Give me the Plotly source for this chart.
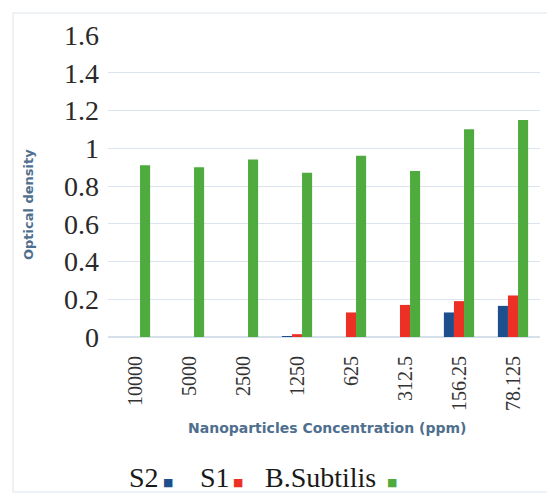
import plotly.graph_objects as go

categories = ["10000", "5000", "2500", "1250", "625", "312.5", "156.25", "78.125"]
s2_values = [0, 0, 0, 0.005, 0, 0, 0.13, 0.165]
s1_values = [0, 0, 0, 0.015, 0.13, 0.17, 0.19, 0.22]
bsub_values = [0.91, 0.90, 0.94, 0.87, 0.96, 0.88, 1.10, 1.15]
y_ticks = [0, 0.2, 0.4, 0.6, 0.8, 1, 1.2, 1.4, 1.6]
series_names = ["S2", "S1", "B.Subtilis"]

c_blue = "#1c4f8c"
c_red = "#ec3026"
c_green = "#4fab3e"
series_colors = [c_blue, c_red, c_green]

fig = go.Figure()
for name, vals, col in zip(series_names, [s2_values, s1_values, bsub_values], series_colors):
    fig.add_trace(go.Bar(name=name, x=categories, y=vals, marker_color=col, marker_line_width=0))

# page body has an 8px margin, so the figure is drawn 8px smaller and target pixels are shifted
OFF = 8
W, H = 555 - OFF, 497 - OFF
L, R, T, B = 100, 15, 27, 160
pw = W - L - R
ph = H - T - B

def px_to_paper_x(px):
    return (px - OFF - L) / pw

def px_to_paper_y(py):
    return (H - B - (py - OFF)) / ph

annotations = [
    dict(text="<b>Optical density</b>", textangle=-90,
         xref="paper", yref="paper", x=px_to_paper_x(28), y=px_to_paper_y(205),
         xanchor="center", yanchor="middle", showarrow=False,
         font=dict(family="DejaVu Sans", size=13, color="#4f6f8f")),
    dict(text="<b>Nanoparticles Concentration (ppm)</b>",
         xref="paper", yref="paper", x=px_to_paper_x(327), y=px_to_paper_y(428),
         xanchor="center", yanchor="middle", showarrow=False,
         font=dict(family="DejaVu Sans", size=14, color="#4f6f8f")),
]

# custom legend: label followed by a small coloured square
legend_text_x = [127, 198, 263]
legend_sq_x = [168, 238, 392]
for name, col, tx, sx in zip(series_names, series_colors, legend_text_x, legend_sq_x):
    annotations.append(dict(text=name, xref="paper", yref="paper",
                            x=px_to_paper_x(tx), y=px_to_paper_y(477),
                            xanchor="left", yanchor="middle", showarrow=False,
                            font=dict(family="Liberation Serif", size=28, color="#1a1a1a")))
    annotations.append(dict(text="■", xref="paper", yref="paper",
                            x=px_to_paper_x(sx), y=px_to_paper_y(482),
                            xanchor="center", yanchor="middle", showarrow=False,
                            font=dict(family="DejaVu Sans", size=11, color=col)))

fig.update_layout(
    width=W, height=H,
    margin=dict(l=L, r=R, t=T, b=B, pad=0),
    barmode="group",
    bargap=0.44,
    bargroupgap=0,
    showlegend=False,
    plot_bgcolor="white",
    paper_bgcolor="white",
    xaxis=dict(
        type="category",
        tickangle=-90,
        tickfont=dict(family="Liberation Serif", size=20, color="#333333"),
        showgrid=False,
        showline=True,
        linecolor="#d6e0ea",
        linewidth=1,
        ticks="",
        ticklabelstandoff=10,
    ),
    yaxis=dict(
        range=[0, 1.6],
        tickvals=y_ticks,
        ticktext=[("%g" % v) for v in y_ticks],
        tickfont=dict(family="Liberation Serif", size=28, color="#2a2a2a"),
        showgrid=True,
        gridcolor="#dbe4ee",
        gridwidth=1,
        zeroline=True,
        zerolinecolor="#d6e0ea",
        showline=False,
        ticks="",
        ticklabelstandoff=8,
    ),
    shapes=[
        dict(type="rect", xref="paper", yref="paper",
             x0=px_to_paper_x(13), x1=px_to_paper_x(553),
             y0=px_to_paper_y(492), y1=px_to_paper_y(13),
             line=dict(color="#dde4ea", width=1), fillcolor="rgba(0,0,0,0)", layer="below"),
    ],
    annotations=annotations,
)

fig.write_html("out.html")
